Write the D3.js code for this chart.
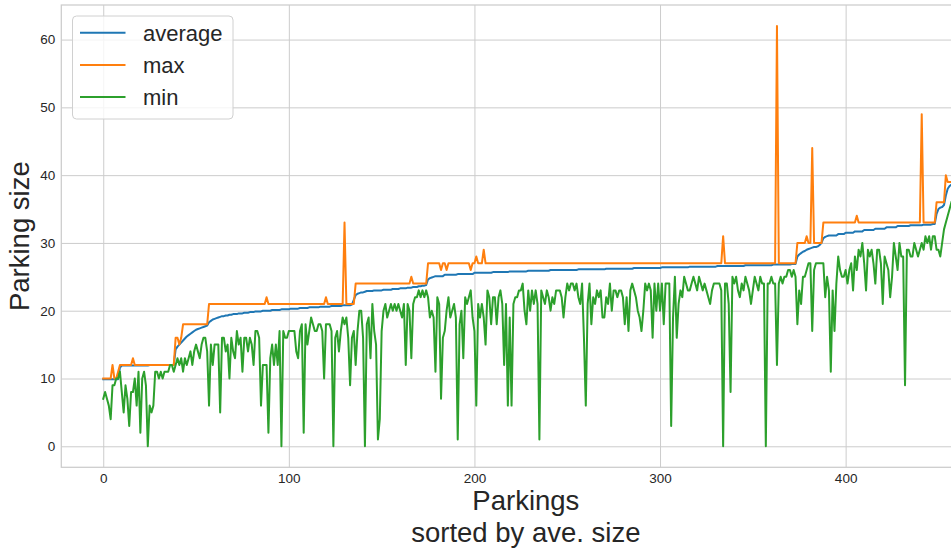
<!DOCTYPE html>
<html><head><meta charset="utf-8">
<script src="https://cdn.jsdelivr.net/npm/d3@7"></script>
<style>html,body{margin:0;padding:0;background:#fff;overflow:hidden}</style>
</head><body>
<svg id="chart" width="951" height="550"></svg>
<script>
const seriesNames = ["average", "max", "min"];
const seriesColors = ["#1f77b4", "#ff7f0e", "#2ca02c"];
const xTicks = [0, 100, 200, 300, 400];
const yTicks = [0, 10, 20, 30, 40, 50, 60];
const xLabelLines = ["Parkings", "sorted by ave. size"];
const yLabel = "Parking size";

const avgVals = [
9.9,9.9,9.9,9.9,9.9,9.9,9.9,9.9,9.9,11.6,
11.9,11.9,11.9,11.9,11.9,11.9,11.9,11.9,11.9,11.9,
11.9,11.9,11.9,11.9,11.9,12.0,12.0,12.0,12.0,12.0,
12.0,12.0,12.0,12.0,12.0,12.0,12.0,12.0,12.0,14.3,
14.7,15.0,15.3,15.6,15.9,16.2,16.4,16.6,16.8,17.0,
17.2,17.3,17.4,17.5,17.6,17.7,17.8,18.3,18.5,18.7,
18.8,18.9,19.0,19.1,19.2,19.2,19.3,19.3,19.4,19.4,
19.5,19.5,19.5,19.6,19.6,19.6,19.7,19.7,19.7,19.8,
19.8,19.8,19.9,19.9,19.9,19.9,20.0,20.0,20.0,20.0,
20.0,20.1,20.1,20.1,20.1,20.1,20.2,20.2,20.2,20.2,
20.2,20.3,20.3,20.3,20.3,20.3,20.4,20.4,20.4,20.4,
20.4,20.5,20.5,20.5,20.5,20.5,20.5,20.6,20.6,20.6,
20.6,20.6,20.6,20.7,20.7,20.7,20.7,20.7,20.7,20.8,
20.8,20.8,20.8,20.8,20.9,21.6,22.3,22.5,22.6,22.7,
22.7,22.8,22.9,22.9,22.9,22.9,23.0,23.0,23.0,23.0,
23.0,23.1,23.1,23.1,23.1,23.1,23.2,23.2,23.2,23.2,
23.3,23.3,23.3,23.3,23.4,23.4,23.4,23.5,23.5,23.5,
23.6,23.6,23.7,23.7,23.8,24.6,24.8,24.9,25.0,25.1,
25.1,25.1,25.1,25.1,25.3,25.3,25.3,25.3,25.3,25.3,
25.3,25.4,25.4,25.4,25.4,25.4,25.4,25.4,25.4,25.4,
25.6,25.6,25.6,25.6,25.6,25.6,25.6,25.6,25.6,25.6,
25.7,25.7,25.7,25.7,25.7,25.7,25.7,25.7,25.7,25.8,
25.8,25.8,25.8,25.8,25.8,25.8,25.8,25.8,25.8,25.9,
25.9,25.9,25.9,25.9,25.9,25.9,25.9,25.9,25.9,25.9,
25.9,26.0,26.0,26.0,26.0,26.0,26.0,26.0,26.0,26.0,
26.0,26.0,26.0,26.0,26.0,26.0,26.1,26.1,26.1,26.1,
26.1,26.1,26.1,26.1,26.1,26.1,26.1,26.1,26.1,26.1,
26.1,26.2,26.2,26.2,26.2,26.2,26.2,26.2,26.2,26.2,
26.2,26.2,26.2,26.2,26.2,26.2,26.3,26.3,26.3,26.3,
26.3,26.3,26.3,26.3,26.3,26.3,26.3,26.3,26.3,26.3,
26.3,26.4,26.4,26.4,26.4,26.4,26.4,26.4,26.4,26.4,
26.4,26.4,26.4,26.4,26.4,26.4,26.5,26.5,26.5,26.5,
26.5,26.5,26.5,26.5,26.5,26.5,26.5,26.5,26.5,26.5,
26.5,26.6,26.6,26.6,26.6,26.6,26.6,26.6,26.6,26.6,
26.6,26.6,26.6,26.6,26.6,26.6,26.7,26.7,26.7,26.7,
26.7,26.7,26.7,26.7,26.7,26.7,26.7,26.7,26.7,26.7,
26.7,26.8,26.8,26.8,26.8,26.8,26.8,26.8,26.8,26.8,
26.8,26.9,26.9,26.9,28.0,28.3,28.5,28.7,28.8,29.0,
29.1,29.2,29.3,29.4,29.4,29.5,29.7,30.0,30.7,30.9,
31.0,31.1,31.1,31.1,31.1,31.1,31.3,31.3,31.3,31.3,
31.5,31.5,31.5,31.5,31.5,31.7,31.7,31.7,31.7,31.7,
31.9,31.9,31.9,31.9,31.9,31.9,32.1,32.1,32.1,32.1,
32.1,32.1,32.3,32.3,32.3,32.3,32.3,32.3,32.5,32.5,
32.5,32.5,32.5,32.5,32.5,32.6,32.6,32.6,32.6,32.6,
32.6,32.6,32.7,32.7,32.7,32.7,32.7,32.8,32.8,34.3,
35.0,35.2,35.3,35.6,37.0,38.0,38.4,38.6
];

const maxVals = [
10,10,10,10,10,12,10,10,11,12,
12,12,12,12,12,12,13,12,12,12,
12,12,12,12,12,12,12,12,12,12,
12,12,12,12,12,12,12,12,12,16,
16,15,16,18,18,18,18,18,18,18,
18,18,18,18,18,18,18,21,21,21,
21,21,21,21,21,21,21,21,21,21,
21,21,21,21,21,21,21,21,21,21,
21,21,21,21,21,21,21,21,22,21,
21,21,21,21,21,21,21,21,21,21,
21,21,21,21,21,21,21,21,21,21,
21,21,21,21,21,21,21,21,21,21,
22,21,21,21,21,21,21,21,21,21,
33,21,21,21,21,21,24,24,24,24,
24,24,24,24,24,24,24,24,24,24,
24,24,24,24,24,24,24,24,24,24,
24,24,24,24,24,24,25,24,24,24,
24,24,24,24,24,27,27,27,27,27,
27,27,26,27,27,26,27,27,27,27,
27,27,27,27,27,27,27,27,26,27,
27,28,27,27,27,29,27,27,27,27,
27,27,27,27,27,27,27,27,27,27,
27,27,27,27,27,27,27,27,27,27,
27,27,27,27,27,27,27,27,27,27,
27,27,27,27,27,27,27,27,27,27,
27,27,27,27,27,27,27,27,27,27,
27,27,27,27,27,27,27,27,27,27,
27,27,27,27,27,27,27,27,27,27,
27,27,27,27,27,27,27,27,27,27,
27,27,27,27,27,27,27,27,27,27,
27,27,27,27,27,27,27,27,27,27,
27,27,27,27,27,27,27,27,27,27,
27,27,27,27,27,27,27,27,27,27,
27,27,27,27,31,27,27,27,27,27,
27,27,27,27,27,27,27,27,27,27,
27,27,27,27,27,27,27,27,27,27,
27,27,27,62,27,27,27,27,27,27,
27,27,27,27,30,30,30,30,30,31,
30,30,44,30,30,30,30,30,33,33,
33,33,33,33,33,33,33,33,33,33,
33,33,33,33,33,33,34,33,33,33,
33,33,33,33,33,33,33,33,33,33,
33,33,33,33,33,33,33,33,33,33,
33,33,33,33,33,33,33,33,33,33,
33,49,33,33,33,33,33,33,33,36,
36,36,36,36,40,39,39,39
];

const minVals = [
7,8,7,6,4,9,9,10,10,11,
8,5,9,7,3,8,8,10,6,11,
2,10,11,9,0,6,5,6,11,11,
10,11,10,11,11,11,12,12,11,12,
13,12,13,11,13,12,13,14,12,14,
15,14,13,15,16,16,14,6,15,12,
15,15,15,5,16,16,14,15,10,16,
14,13,17,15,16,11,16,16,14,16,
15,12,17,17,16,6,12,12,12,2,
13,15,12,15,12,17,0,17,16,16,
17,17,17,17,14,13,17,18,2,18,
15,17,19,18,17,17,18,18,17,10,
18,18,18,17,0,16,17,14,17,19,
18,19,16,9,16,17,12,17,20,20,
16,0,18,19,13,21,17,15,1,4,
17,20,21,19,20,21,20,21,20,21,
20,19,21,12,21,20,13,21,22,22,
23,22,23,22,23,22,19,20,19,11,
22,21,7,16,17,20,22,19,20,21,
19,1,18,20,13,22,21,22,23,19,
17,6,21,19,21,19,15,23,22,18,
22,22,18,22,23,21,12,21,6,19,
6,21,22,22,23,23,24,20,18,23,
20,23,21,23,21,1,23,22,21,23,
22,20,22,21,23,23,23,22,19,22,
24,23,24,24,23,24,22,21,24,16,
6,21,24,18,22,21,23,22,23,19,
19,22,21,24,20,23,23,22,23,23,
22,18,22,17,23,24,23,22,20,19,
17,20,24,23,24,23,16,24,20,24,
20,24,18,24,24,24,3,19,25,16,
21,23,22,25,24,23,23,24,25,24,
23,25,24,23,24,23,22,21,23,24,
24,24,24,23,0,24,24,21,8,25,
24,25,23,22,24,23,25,24,23,21,
23,25,24,23,25,24,24,0,24,24,
25,24,24,12,24,25,24,25,25,26,
26,25,26,25,18,23,21,25,25,26,
27,27,17,26,27,27,27,27,27,22,
25,23,11,23,17,24,28,26,25,25,
26,24,26,27,23,28,26,29,28,30,
27,23,29,28,29,27,24,29,29,27,
21,28,27,26,22,25,30,28,26,30,
28,28,9,29,29,28,28,30,29,28,
29,30,29,31,30,31,29,31,31,29,
29,28,30,32,33,34,35,36
];

const seriesData = [avgVals, maxVals, minVals];

const W = 951, H = 550;
const plotLeft = 61.3, plotTop = 5, plotBottom = 467.3, plotRight = 990.4;
const font = "'Liberation Sans', Arial, Helvetica, sans-serif";
const textColor = "#262626";
const gridColor = "#cccccc";

const svg = d3.select("#chart");
svg.append("rect").attr("width", W).attr("height", H).attr("fill", "#ffffff");

const x = d3.scaleLinear().domain([-22.6, 478]).range([plotLeft, plotRight]);
const y = d3.scaleLinear().domain([-3.1, 65.1]).range([plotBottom, plotTop]);

// grid + y axis
const yAxis = svg.append("g").attr("transform", `translate(${plotLeft},0)`)
  .call(d3.axisLeft(y).tickValues(yTicks).tickSize(-(plotRight - plotLeft)).tickPadding(6).tickFormat(d3.format("d")));
yAxis.select(".domain").remove();
yAxis.selectAll(".tick line").attr("stroke", gridColor).attr("stroke-width", 1);
yAxis.selectAll(".tick text").attr("fill", textColor).style("font-family", font).style("font-size", "13.5px");

const xAxis = svg.append("g").attr("transform", `translate(0,${plotBottom})`)
  .call(d3.axisBottom(x).tickValues(xTicks).tickSize(-(plotBottom - plotTop)).tickPadding(6).tickFormat(d3.format("d")));
xAxis.select(".domain").remove();
xAxis.selectAll(".tick line").attr("stroke", gridColor).attr("stroke-width", 1);
xAxis.selectAll(".tick text").attr("fill", textColor).style("font-family", font).style("font-size", "13.5px");

// spines
svg.append("rect")
  .attr("x", plotLeft).attr("y", plotTop)
  .attr("width", plotRight - plotLeft).attr("height", plotBottom - plotTop)
  .attr("fill", "none").attr("stroke", gridColor).attr("stroke-width", 1.25);

// clip
svg.append("defs").append("clipPath").attr("id", "clip")
  .append("rect").attr("x", plotLeft).attr("y", plotTop)
  .attr("width", plotRight - plotLeft).attr("height", plotBottom - plotTop);

const line = d3.line().x((d, i) => x(i)).y(d => y(d));
const lines = svg.append("g").attr("clip-path", "url(#clip)");
seriesData.forEach((vals, k) => {
  lines.append("path").datum(vals)
    .attr("d", line)
    .attr("fill", "none")
    .attr("stroke", seriesColors[k])
    .attr("stroke-width", 2)
    .attr("stroke-linejoin", "round")
    .attr("stroke-linecap", "square");
});

// axis labels
const xl = svg.append("text").attr("text-anchor", "middle")
  .attr("fill", textColor).style("font-family", font).style("font-size", "27.5px");
xLabelLines.forEach((t, i) => {
  xl.append("tspan").attr("x", (plotLeft + plotRight) / 2).attr("y", 510 + i * 31.5).text(t);
});
svg.append("text")
  .attr("transform", `translate(29,${(plotTop + plotBottom) / 2}) rotate(-90)`)
  .attr("text-anchor", "middle")
  .attr("fill", textColor).style("font-family", font).style("font-size", "27.5px")
  .text(yLabel);

// legend
const lg = svg.append("g");
lg.append("rect").attr("x", 72.5).attr("y", 16).attr("width", 160.5).attr("height", 103)
  .attr("rx", 4).attr("ry", 4)
  .attr("fill", "#ffffff").attr("fill-opacity", 0.8)
  .attr("stroke", "#d0d0d0").attr("stroke-width", 1);
seriesNames.forEach((name, i) => {
  const cy = 32.7 + i * 32.2;
  lg.append("line").attr("x1", 80).attr("x2", 125.5).attr("y1", cy).attr("y2", cy)
    .attr("stroke", seriesColors[i]).attr("stroke-width", 2);
  lg.append("text").attr("x", 143).attr("y", cy).attr("dy", "0.36em")
    .attr("fill", textColor).style("font-family", font).style("font-size", "22px")
    .text(name);
});
</script>
</body></html>
